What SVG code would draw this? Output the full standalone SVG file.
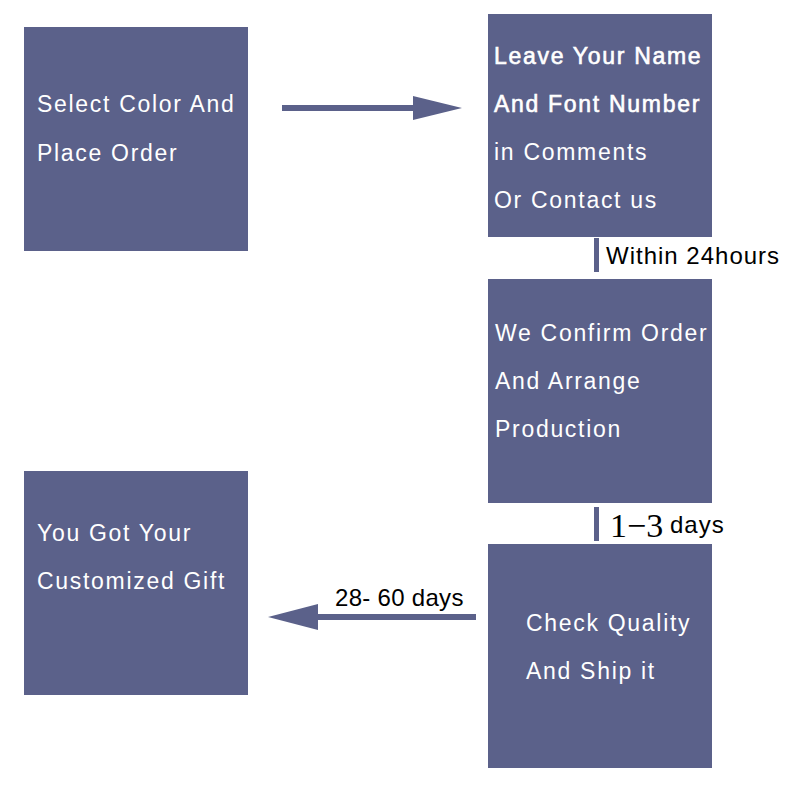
<svg xmlns="http://www.w3.org/2000/svg" width="800" height="800" viewBox="0 0 800 800">
<style>
.box{fill:#5b618a}
.t{font-family:"Liberation Sans",Arial,sans-serif;font-size:23px;fill:#ffffff;letter-spacing:1.7px}
.b{stroke:#ffffff;stroke-width:0.6px}
.lbl{font-family:"Liberation Sans",Arial,sans-serif;font-size:24px;fill:#000000;letter-spacing:1px}
.bar{fill:#5b618a}
</style>
<rect width="800" height="800" fill="#ffffff"/>
<g id="connectors">
<rect class="bar" x="282" y="105" width="133" height="6"/>
<polygon class="bar" points="413,96 462,108 413,120"/>
<rect class="bar" x="594" y="238" width="5" height="34"/>
<text class="lbl" x="606" y="264">Within 24hours</text>
<rect class="bar" x="594" y="507" width="5" height="34"/>
<text x="610" y="537" font-family="'Liberation Serif','Times New Roman',serif" font-size="34" fill="#000">1−3</text>
<text class="lbl" x="670" y="533">days</text>
<rect class="bar" x="316" y="614" width="160" height="6"/>
<polygon class="bar" points="318,604 268,617 318,630"/>
<text class="lbl" x="335" y="606" style="letter-spacing:0.3px">28- 60 days</text>
</g>
<g id="n1">
<rect class="box" x="24" y="27" width="224" height="224"/>
<text class="t" x="37" y="112">Select Color And</text>
<text class="t" x="37" y="161">Place Order</text>
</g>
<g id="n2">
<rect class="box" x="488" y="14" width="224" height="223"/>
<text class="t b" x="494" y="64">Leave Your Name</text>
<text class="t b" x="494" y="112">And Font Number</text>
<text class="t" x="494" y="160">in Comments</text>
<text class="t" x="494" y="208">Or Contact us</text>
</g>
<g id="n3">
<rect class="box" x="488" y="279" width="224" height="224"/>
<text class="t" x="495" y="341">We Confirm Order</text>
<text class="t" x="495" y="389">And Arrange</text>
<text class="t" x="495" y="437">Production</text>
</g>
<g id="n4">
<rect class="box" x="488" y="544" width="224" height="224"/>
<text class="t" x="526" y="631">Check Quality</text>
<text class="t" x="526" y="679">And Ship it</text>
</g>
<g id="n5">
<rect class="box" x="24" y="471" width="224" height="224"/>
<text class="t" x="37" y="541">You Got Your</text>
<text class="t" x="37" y="589">Customized Gift</text>
</g>
</svg>
